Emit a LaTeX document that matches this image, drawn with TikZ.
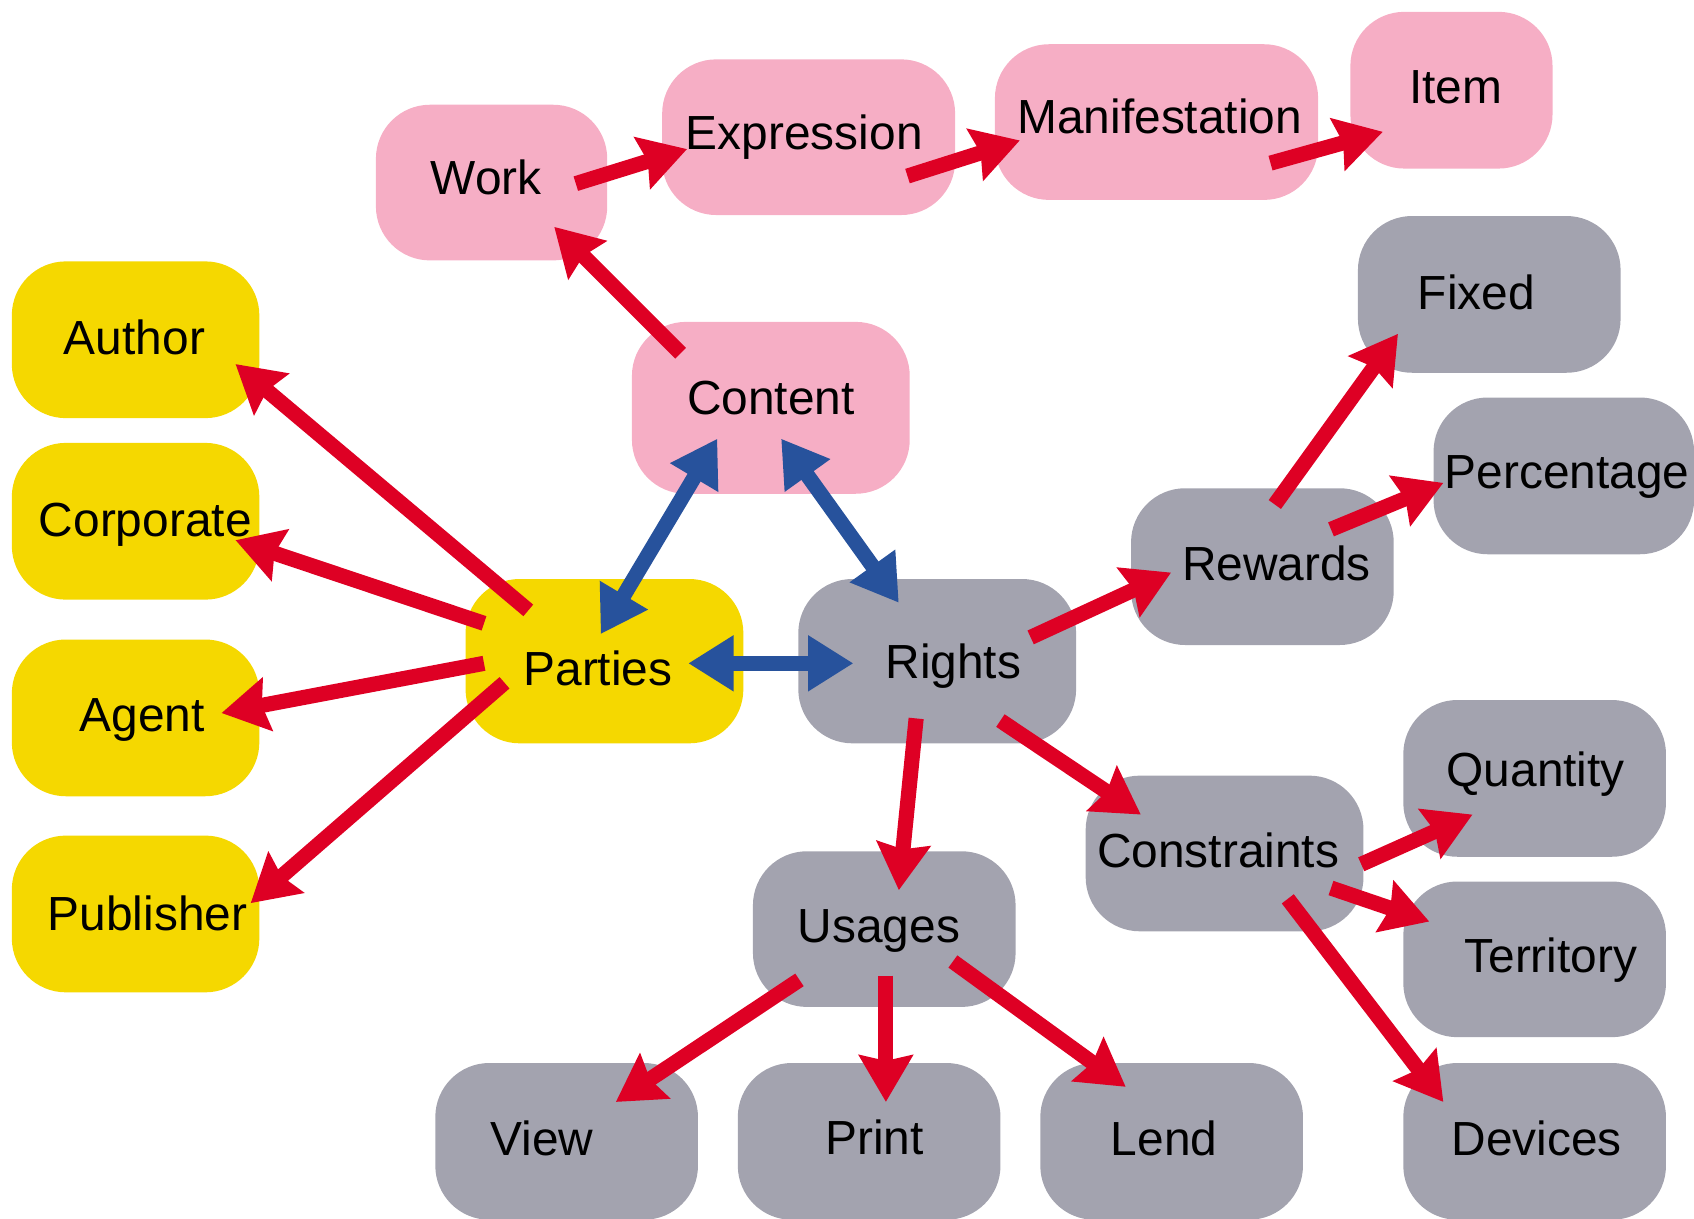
\documentclass[tikz,border=0pt]{standalone}
\usepackage{fontspec}
\setmainfont{Liberation Sans}
\usetikzlibrary{arrows.meta}
\definecolor{boxpink}{HTML}{F6AEC5}
\definecolor{boxyellow}{HTML}{F5D800}
\definecolor{boxgrey}{HTML}{A3A3AF}
\definecolor{arrowred}{HTML}{DE0024}
\definecolor{arrowblue}{HTML}{27529C}
\tikzset{roundbox/.style={rectangle, rounded corners=0.5cm, inner sep=0pt, minimum width=2.43cm, minimum height=1.45cm},
pinkbox/.style={roundbox, fill=boxpink},
yellowbox/.style={roundbox, fill=boxyellow, minimum width=2.29cm},
greybox/.style={roundbox, fill=boxgrey},
boxtext/.style 2 args={label={[shift={#2}]center:#1}},
every label/.style={font=\fontsize{12.6}{15}\selectfont, inner sep=0pt},
redarrow/.style={draw=arrowred, line width=0.14cm, -{Stealth[length=0.43cm, width=0.49cm, inset=0.05cm]}},
bluearrow/.style={draw=arrowblue, line width=0.14cm, {Triangle[length=0.42cm, width=0.49cm]}-{Triangle[length=0.42cm, width=0.49cm]}},}

\begin{document}
\begin{tikzpicture}[x=0.01cm, y=-0.01cm]
\useasboundingbox (0,0) rectangle (1568,1128);
% content side
\node [pinkbox, minimum width=2.14cm, minimum height=1.44cm, boxtext={Work}{(-5,-5)}] (work) at (455,169) {};
\node [pinkbox, minimum width=2.71cm, minimum height=1.44cm, boxtext={Expression}{(-4,0)}] (expression) at (748.5,127) {};
\node [pinkbox, minimum width=2.99cm, minimum height=1.44cm, boxtext={Manifestation}{(3,-5)}] (manifestation) at (1070.5,113) {};
\node [pinkbox, minimum width=1.87cm, boxtext={Item}{(4,-3)}] (item) at (1343.5,83.5) {};
\node [pinkbox, minimum width=2.57cm, minimum height=1.59cm, boxtext={Content}{(0,-9)}] (content) at (713.5,377.5) {};
% parties
\node [yellowbox, boxtext={Author}{(-1,-2)}] (author) at (125.5,314.5) {};
\node [yellowbox, boxtext={Corporate}{(9,3)}] (corporate) at (125.5,482.5) {};
\node [yellowbox, boxtext={Agent}{(6,2)}] (agent) at (125.5,664.5) {};
\node [yellowbox, boxtext={Publisher}{(11,-1)}] (publisher) at (125.5,846) {};
\node [yellowbox, minimum width=2.57cm, minimum height=1.52cm, boxtext={Parties}{(-6,7)}] (parties) at (559.5,612) {};
% rights
\node [greybox, minimum width=2.57cm, minimum height=1.52cm, boxtext={Rights}{(15,5)}] (rights) at (867.5,612) {};
\node [greybox, boxtext={Rewards}{(13,-3)}] (rewards) at (1168.5,524.5) {};
\node [greybox, boxtext={Fixed}{(-12,-2)}] (fixed) at (1378.5,272.5) {};
\node [greybox, minimum width=2.41cm, boxtext={Percentage}{(3,1)}] (percentage) at (1447.5,440.5) {};
\node [greybox, minimum width=2.57cm, minimum height=1.44cm, boxtext={Constraints}{(-6,-3)}] (constraints) at (1133.5,790) {};
\node [greybox, boxtext={Quantity}{(1,-4)}] (quantity) at (1420.5,720.5) {};
\node [greybox, minimum height=1.44cm, boxtext={Territory}{(15,1)}] (territory) at (1420.5,888) {};
\node [greybox, boxtext={Devices}{(2,-3)}] (devices) at (1420.5,1056.5) {};
\node [greybox, minimum height=1.44cm, boxtext={Usages}{(-5,2)}] (usages) at (818.5,860) {};
\node [greybox, boxtext={View}{(-23,-3)}] (view) at (524.5,1056.5) {};
\node [greybox, boxtext={Print}{(5,-4)}] (print) at (804.5,1056.5) {};
\node [greybox, boxtext={Lend}{(-7,-3)}] (lend) at (1084.5,1056.5) {};

\draw [redarrow] ([shift={(78,1)}]work.center) -- ([shift={(-112.5,11)}]expression.center);
\draw [redarrow] ([shift={(91.5,36)}]expression.center) -- ([shift={(-126.5,17)}]manifestation.center);
\draw [redarrow] ([shift={(105.5,38)}]manifestation.center) -- ([shift={(-63.5,38.5)}]item.center);
\draw [redarrow] ([shift={(-83.5,-50.5)}]content.center) -- ([shift={(58,41)}]work.center);
\draw [redarrow] ([shift={(-70.5,-47)}]parties.center) -- ([shift={(92.5,22.5)}]author.center);
\draw [redarrow] ([shift={(-111.5,-35)}]parties.center) -- ([shift={(92.5,17.5)}]corporate.center);
\draw [redarrow] ([shift={(-111.5,2)}]parties.center) -- ([shift={(79.5,-4.5)}]agent.center);
\draw [redarrow] ([shift={(-92.5,20)}]parties.center) -- ([shift={(106.5,-10)}]publisher.center);
\draw [redarrow] ([shift={(86.5,-22)}]rights.center) -- ([shift={(-84.5,5.5)}]rewards.center);
\draw [redarrow] ([shift={(11.5,-57.5)}]rewards.center) -- ([shift={(-84.5,36.5)}]fixed.center);
\draw [redarrow] ([shift={(63.5,-34.5)}]rewards.center) -- ([shift={(-111.5,6.5)}]percentage.center);
\draw [redarrow] ([shift={(58.5,55)}]rights.center) -- ([shift={(-77.5,-36)}]constraints.center);
\draw [redarrow] ([shift={(-19.5,53)}]rights.center) -- ([shift={(13.5,-36)}]usages.center);
\draw [redarrow] ([shift={(126.5,10)}]constraints.center) -- ([shift={(-57.5,33.5)}]quantity.center);
\draw [redarrow] ([shift={(98.5,32)}]constraints.center) -- ([shift={(-97.5,-35)}]territory.center);
\draw [redarrow] ([shift={(58.5,42)}]constraints.center) -- ([shift={(-84.5,-36.5)}]devices.center);
\draw [redarrow] ([shift={(-78.5,47)}]usages.center) -- ([shift={(45.5,-36.5)}]view.center);
\draw [redarrow] ([shift={(1.5,43)}]usages.center) -- ([shift={(15.5,-36.5)}]print.center);
\draw [redarrow] ([shift={(63.5,30)}]usages.center) -- ([shift={(-42.5,-50.5)}]lend.center);

\draw [bluearrow] ([shift={(-3.5,-25)}]parties.center) -- ([shift={(-49.5,28.5)}]content.center);
\draw [bluearrow] ([shift={(9.5,28.5)}]content.center) -- ([shift={(-35.5,-54)}]rights.center);
\draw [bluearrow] ([shift={(77.5,2)}]parties.center) -- ([shift={(-77.5,2)}]rights.center);
\end{tikzpicture}
\end{document}
